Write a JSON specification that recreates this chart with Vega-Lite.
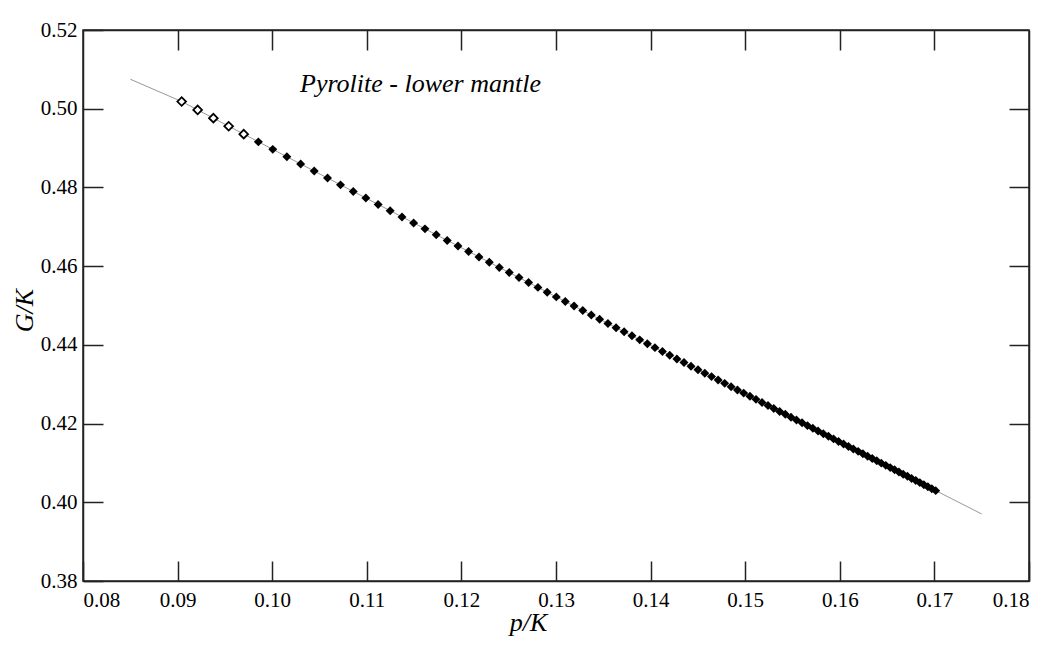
{
  "$schema": "https://vega.github.io/schema/vega-lite/v6.json",
  "width": 946,
  "height": 551,
  "autosize": {"type": "none"},
  "padding": {"left": 83, "top": 30, "right": 34, "bottom": 65},
  "background": "white",
  "config": {
    "view": {"stroke": "#222", "strokeWidth": 1.5},
    "axis": {
      "grid": false,
      "domainColor": "#222",
      "domainWidth": 1.5,
      "tickColor": "#222",
      "tickWidth": 1.5,
      "tickSize": -20,
      "labelFont": "Liberation Serif",
      "labelFontSize": 21,
      "labelColor": "#000",
      "labelPadding": 27,
      "titleFont": "Liberation Serif",
      "titleFontSize": 26,
      "titleFontStyle": "italic",
      "titleFontWeight": "normal",
      "titleColor": "#000"
    }
  },
  "datasets": {
    "fit": [
      {"pK": 0.085, "GK": 0.5075},
      {"pK": 0.09043, "GK": 0.50183},
      {"pK": 0.10585, "GK": 0.48238},
      {"pK": 0.1185, "GK": 0.46654},
      {"pK": 0.12907, "GK": 0.45338},
      {"pK": 0.13803, "GK": 0.44229},
      {"pK": 0.14918, "GK": 0.42855},
      {"pK": 0.15826, "GK": 0.41743},
      {"pK": 0.16343, "GK": 0.41113},
      {"pK": 0.17014, "GK": 0.40296},
      {"pK": 0.175, "GK": 0.39703}
    ],
    "pts": [
      {"pK": 0.09043, "GK": 0.50183, "kind": "open"},
      {"pK": 0.09212, "GK": 0.49969, "kind": "open"},
      {"pK": 0.09378, "GK": 0.4976, "kind": "open"},
      {"pK": 0.0954, "GK": 0.49555, "kind": "open"},
      {"pK": 0.09699, "GK": 0.49354, "kind": "open"},
      {"pK": 0.09854, "GK": 0.49158, "kind": "filled"},
      {"pK": 0.10006, "GK": 0.48967, "kind": "filled"},
      {"pK": 0.10155, "GK": 0.48779, "kind": "filled"},
      {"pK": 0.10301, "GK": 0.48595, "kind": "filled"},
      {"pK": 0.10444, "GK": 0.48415, "kind": "filled"},
      {"pK": 0.10585, "GK": 0.48238, "kind": "filled"},
      {"pK": 0.10722, "GK": 0.48065, "kind": "filled"},
      {"pK": 0.10857, "GK": 0.47896, "kind": "filled"},
      {"pK": 0.1099, "GK": 0.4773, "kind": "filled"},
      {"pK": 0.1112, "GK": 0.47567, "kind": "filled"},
      {"pK": 0.11247, "GK": 0.47408, "kind": "filled"},
      {"pK": 0.11372, "GK": 0.47251, "kind": "filled"},
      {"pK": 0.11495, "GK": 0.47097, "kind": "filled"},
      {"pK": 0.11615, "GK": 0.46947, "kind": "filled"},
      {"pK": 0.11734, "GK": 0.46799, "kind": "filled"},
      {"pK": 0.1185, "GK": 0.46654, "kind": "filled"},
      {"pK": 0.11964, "GK": 0.46511, "kind": "filled"},
      {"pK": 0.12076, "GK": 0.46371, "kind": "filled"},
      {"pK": 0.12186, "GK": 0.46234, "kind": "filled"},
      {"pK": 0.12295, "GK": 0.46099, "kind": "filled"},
      {"pK": 0.12401, "GK": 0.45967, "kind": "filled"},
      {"pK": 0.12506, "GK": 0.45837, "kind": "filled"},
      {"pK": 0.12609, "GK": 0.45709, "kind": "filled"},
      {"pK": 0.1271, "GK": 0.45583, "kind": "filled"},
      {"pK": 0.12809, "GK": 0.4546, "kind": "filled"},
      {"pK": 0.12907, "GK": 0.45338, "kind": "filled"},
      {"pK": 0.13003, "GK": 0.45219, "kind": "filled"},
      {"pK": 0.13098, "GK": 0.45101, "kind": "filled"},
      {"pK": 0.13191, "GK": 0.44986, "kind": "filled"},
      {"pK": 0.13283, "GK": 0.44872, "kind": "filled"},
      {"pK": 0.13373, "GK": 0.44761, "kind": "filled"},
      {"pK": 0.13461, "GK": 0.44651, "kind": "filled"},
      {"pK": 0.13549, "GK": 0.44543, "kind": "filled"},
      {"pK": 0.13635, "GK": 0.44436, "kind": "filled"},
      {"pK": 0.1372, "GK": 0.44332, "kind": "filled"},
      {"pK": 0.13803, "GK": 0.44229, "kind": "filled"},
      {"pK": 0.13885, "GK": 0.44127, "kind": "filled"},
      {"pK": 0.13966, "GK": 0.44027, "kind": "filled"},
      {"pK": 0.14046, "GK": 0.43929, "kind": "filled"},
      {"pK": 0.14125, "GK": 0.43832, "kind": "filled"},
      {"pK": 0.14202, "GK": 0.43736, "kind": "filled"},
      {"pK": 0.14278, "GK": 0.43642, "kind": "filled"},
      {"pK": 0.14353, "GK": 0.4355, "kind": "filled"},
      {"pK": 0.14427, "GK": 0.43458, "kind": "filled"},
      {"pK": 0.14501, "GK": 0.43369, "kind": "filled"},
      {"pK": 0.14573, "GK": 0.4328, "kind": "filled"},
      {"pK": 0.14644, "GK": 0.43193, "kind": "filled"},
      {"pK": 0.14714, "GK": 0.43106, "kind": "filled"},
      {"pK": 0.14783, "GK": 0.43022, "kind": "filled"},
      {"pK": 0.14851, "GK": 0.42938, "kind": "filled"},
      {"pK": 0.14918, "GK": 0.42855, "kind": "filled"},
      {"pK": 0.14984, "GK": 0.42774, "kind": "filled"},
      {"pK": 0.1505, "GK": 0.42694, "kind": "filled"},
      {"pK": 0.15114, "GK": 0.42615, "kind": "filled"},
      {"pK": 0.15178, "GK": 0.42537, "kind": "filled"},
      {"pK": 0.15241, "GK": 0.4246, "kind": "filled"},
      {"pK": 0.15302, "GK": 0.42384, "kind": "filled"},
      {"pK": 0.15364, "GK": 0.42309, "kind": "filled"},
      {"pK": 0.15424, "GK": 0.42235, "kind": "filled"},
      {"pK": 0.15484, "GK": 0.42162, "kind": "filled"},
      {"pK": 0.15542, "GK": 0.4209, "kind": "filled"},
      {"pK": 0.15601, "GK": 0.42019, "kind": "filled"},
      {"pK": 0.15658, "GK": 0.41948, "kind": "filled"},
      {"pK": 0.15715, "GK": 0.41879, "kind": "filled"},
      {"pK": 0.1577, "GK": 0.41811, "kind": "filled"},
      {"pK": 0.15826, "GK": 0.41743, "kind": "filled"},
      {"pK": 0.1588, "GK": 0.41677, "kind": "filled"},
      {"pK": 0.15934, "GK": 0.41611, "kind": "filled"},
      {"pK": 0.15987, "GK": 0.41546, "kind": "filled"},
      {"pK": 0.1604, "GK": 0.41482, "kind": "filled"},
      {"pK": 0.16092, "GK": 0.41418, "kind": "filled"},
      {"pK": 0.16143, "GK": 0.41356, "kind": "filled"},
      {"pK": 0.16194, "GK": 0.41294, "kind": "filled"},
      {"pK": 0.16244, "GK": 0.41233, "kind": "filled"},
      {"pK": 0.16294, "GK": 0.41172, "kind": "filled"},
      {"pK": 0.16343, "GK": 0.41113, "kind": "filled"},
      {"pK": 0.16391, "GK": 0.41054, "kind": "filled"},
      {"pK": 0.16439, "GK": 0.40995, "kind": "filled"},
      {"pK": 0.16486, "GK": 0.40938, "kind": "filled"},
      {"pK": 0.16533, "GK": 0.40881, "kind": "filled"},
      {"pK": 0.16579, "GK": 0.40825, "kind": "filled"},
      {"pK": 0.16625, "GK": 0.40769, "kind": "filled"},
      {"pK": 0.1667, "GK": 0.40714, "kind": "filled"},
      {"pK": 0.16715, "GK": 0.4066, "kind": "filled"},
      {"pK": 0.16759, "GK": 0.40606, "kind": "filled"},
      {"pK": 0.16803, "GK": 0.40553, "kind": "filled"},
      {"pK": 0.16846, "GK": 0.405, "kind": "filled"},
      {"pK": 0.16889, "GK": 0.40448, "kind": "filled"},
      {"pK": 0.16931, "GK": 0.40397, "kind": "filled"},
      {"pK": 0.16973, "GK": 0.40346, "kind": "filled"},
      {"pK": 0.17014, "GK": 0.40296, "kind": "filled"}
    ],
    "note": [
      {"label": "Pyrolite - lower mantle", "pK": 0.10294, "GK": 0.50425}
    ]
  },
  "layer": [
    {
      "data": {"name": "fit"},
      "mark": {"type": "line", "color": "#999999", "strokeWidth": 1},
      "encoding": {
        "x": {
          "field": "pK", "type": "quantitative",
          "scale": {"domain": [0.08, 0.18], "nice": false, "zero": false},
          "axis": {"orient": "bottom", "values": [0.08, 0.09, 0.1, 0.11, 0.12, 0.13, 0.14, 0.15, 0.16, 0.17, 0.18], "format": ".2f", "labelPadding": 28, "title": "p/K", "titleX": 445, "titleY": 49, "titleBaseline": "alphabetic", "titleAnchor": "middle", "titleAlign": "center"}
        },
        "y": {
          "field": "GK", "type": "quantitative",
          "scale": {"domain": [0.38, 0.52], "nice": false, "zero": false},
          "axis": {"orient": "left", "values": [0.38, 0.4, 0.42, 0.44, 0.46, 0.48, 0.5, 0.52], "format": ".2f", "labelPadding": 26, "title": "G/K", "titleX": -51, "titleY": 280, "titleAngle": -90, "titleBaseline": "alphabetic", "titleAlign": "center"}
        }
      }
    },
    {
      "data": {"name": "pts"},
      "transform": [{"filter": "datum.kind === 'open'"}],
      "mark": {"type": "point", "shape": "diamond", "filled": false, "fill": "white", "stroke": "black", "strokeWidth": 1.8, "size": 75, "opacity": 1},
      "encoding": {
        "x": {"field": "pK", "type": "quantitative", "axis": {"orient": "top", "values": [0.09, 0.1, 0.11, 0.12, 0.13, 0.14, 0.15, 0.16, 0.17], "labels": false, "title": null}},
        "y": {"field": "GK", "type": "quantitative", "axis": {"orient": "right", "values": [0.4, 0.42, 0.44, 0.46, 0.48, 0.5], "labels": false, "title": null}}
      }
    },
    {
      "data": {"name": "pts"},
      "transform": [{"filter": "datum.kind === 'filled'"}],
      "mark": {"type": "point", "shape": "diamond", "filled": true, "color": "black", "size": 80, "opacity": 1},
      "encoding": {
        "x": {"field": "pK", "type": "quantitative", "axis": null},
        "y": {"field": "GK", "type": "quantitative", "axis": null}
      }
    },
    {
      "data": {"name": "note"},
      "mark": {"type": "text", "font": "Liberation Serif", "fontSize": 26, "fontStyle": "italic", "align": "left", "baseline": "alphabetic", "color": "black"},
      "encoding": {
        "text": {"field": "label", "type": "nominal"},
        "x": {"field": "pK", "type": "quantitative", "axis": null},
        "y": {"field": "GK", "type": "quantitative", "axis": null}
      }
    }
  ],
  "resolve": {"axis": {"x": "independent", "y": "independent"}}
}
